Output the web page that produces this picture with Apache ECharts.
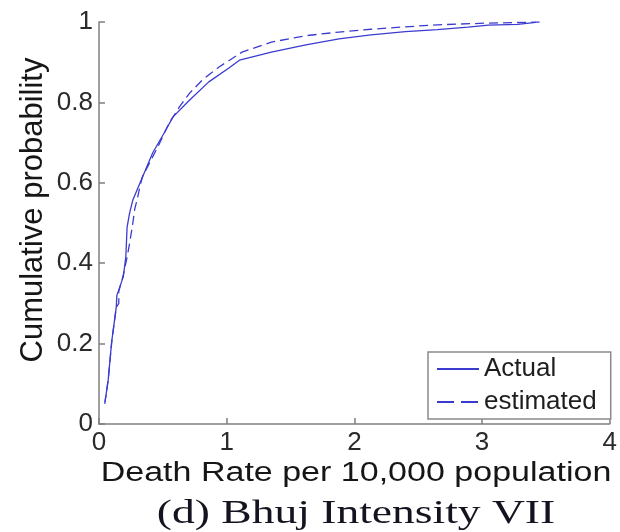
<!DOCTYPE html>
<html>
<head>
<meta charset="utf-8">
<script src="https://cdn.jsdelivr.net/npm/echarts@6/dist/echarts.min.js"></script>
<style>html,body{margin:0;padding:0;background:#fff}#c{width:620px;height:532px}</style>
</head>
<body>
<div id="c"></div>
<script>
// ---- data ----
const actualX = [0.047, 0.072, 0.099, 0.135, 0.14, 0.19, 0.21, 0.22, 0.24, 0.265, 0.34, 0.42, 0.51, 0.58, 0.71, 0.86, 1.02, 1.10, 1.35, 1.62, 1.88, 2.13, 2.40, 2.65, 2.89, 3.05, 3.28, 3.42];
const actualP = [0.055, 0.109, 0.204, 0.29, 0.32, 0.366, 0.415, 0.49, 0.525, 0.557, 0.614, 0.674, 0.724, 0.764, 0.806, 0.851, 0.886, 0.905, 0.925, 0.943, 0.958, 0.968, 0.976, 0.981, 0.987, 0.992, 0.994, 0.999];
const estimatedX = [0.045, 0.072, 0.10, 0.135, 0.155, 0.155, 0.19, 0.22, 0.24, 0.265, 0.28, 0.30, 0.32, 0.34, 0.46, 0.55, 0.63, 0.71, 0.81, 0.94, 1.12, 1.35, 1.62, 1.88, 2.13, 2.40, 2.65, 3.02, 3.45];
const estimatedP = [0.05, 0.11, 0.205, 0.29, 0.30, 0.33, 0.37, 0.415, 0.45, 0.50, 0.535, 0.56, 0.59, 0.615, 0.689, 0.749, 0.789, 0.823, 0.856, 0.888, 0.925, 0.95, 0.966, 0.975, 0.982, 0.988, 0.993, 0.997, 1.0];
const seriesNames = ['Actual', 'estimated'];
const xTicks = [0, 1, 2, 3, 4];
const yTicks = [0, 0.2, 0.4, 0.6, 0.8, 1];
const xAxisTitle = 'Death Rate per 10,000 population';
const yAxisTitle = 'Cumulative probability';
const captionText = '(d) Bhuj Intensity VII';

// ---- chart ----
const chart = echarts.init(document.getElementById('c'), null, {renderer: 'canvas'});
const pairs = (xs, ys) => xs.map((x, i) => [x, ys[i]]);
const lineColor = '#3b3bd0';
const axisColor = '#808080';
const sans = '"Liberation Sans", Arial, sans-serif';

const axisCommon = {
  type: 'value',
  axisLine: {show: true, onZero: false, lineStyle: {color: axisColor, width: 1.5}},
  axisTick: {show: true, inside: true, length: 6, lineStyle: {color: axisColor, width: 1.5}},
  splitLine: {show: false},
  axisLabel: {color: '#2a2a2a', fontSize: 26, fontFamily: sans, margin: 6, hideOverlap: false, showMinLabel: true, showMaxLabel: true}
};

const option = {
  animation: false,
  backgroundColor: '#ffffff',
  grid: {left: 99, right: 3, top: 22, bottom: 108, containLabel: false},
  xAxis: Object.assign({}, axisCommon, {
    min: xTicks[0], max: xTicks[xTicks.length - 1], interval: xTicks[1] - xTicks[0]
  }),
  yAxis: Object.assign({}, axisCommon, {
    min: yTicks[0], max: yTicks[yTicks.length - 1], interval: 0.2
  }),
  legend: {
    orient: 'vertical',
    left: 428, top: 352,
    padding: [4, 14, 4, 8],
    itemWidth: 42, itemHeight: 26, itemGap: 7,
    borderColor: '#8a8a8a', borderWidth: 1.5, borderRadius: 0,
    backgroundColor: '#ffffff',
    itemStyle: {opacity: 0},
    textStyle: {fontSize: 26, fontFamily: sans, color: '#1e1e1e'},
    data: [
      {name: seriesNames[0], itemStyle: {opacity: 0}},
      {name: seriesNames[1], itemStyle: {opacity: 0}, lineStyle: {type: [17, 7]}}
    ]
  },
  series: [
    {
      name: seriesNames[0], type: 'line', symbol: 'none', smooth: false,
      lineStyle: {color: lineColor, width: 1.3, type: 'solid'},
      itemStyle: {color: lineColor},
      data: pairs(actualX, actualP)
    },
    {
      name: seriesNames[1], type: 'line', symbol: 'none', smooth: false,
      lineStyle: {color: lineColor, width: 1.3, type: [9, 5]},
      itemStyle: {color: lineColor},
      data: pairs(estimatedX, estimatedP)
    }
  ],
  graphic: [
    {
      type: 'text', x: 33, y: 210, rotation: Math.PI / 2,
      style: {text: yAxisTitle, font: '31px ' + sans, fill: '#161616',
        align: 'center', verticalAlign: 'middle', textAlign: 'center', textVerticalAlign: 'middle'}
    },
    {
      type: 'text', x: 356, y: 474, scaleX: 1.26,
      style: {text: xAxisTitle, font: '27px ' + sans, fill: '#161616',
        align: 'center', verticalAlign: 'middle', textAlign: 'center', textVerticalAlign: 'middle'}
    },
    {
      type: 'text', x: 356, y: 514, scaleX: 1.38,
      style: {text: captionText, font: '33px "Liberation Serif", "Times New Roman", serif', fill: '#141420',
        align: 'center', verticalAlign: 'middle', textAlign: 'center', textVerticalAlign: 'middle'}
    }
  ]
};
chart.setOption(option);
</script>
</body>
</html>
